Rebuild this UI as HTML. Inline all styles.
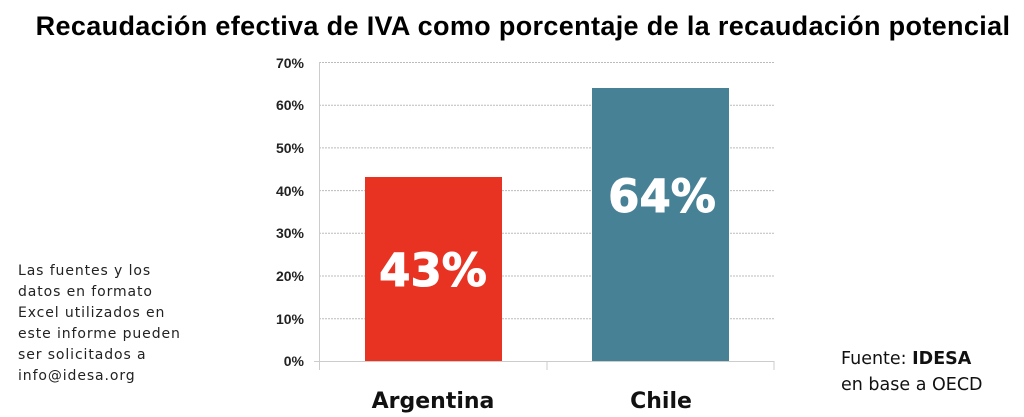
<!DOCTYPE html>
<html><head><meta charset="utf-8"><style>
body{margin:0;width:1024px;height:417px;background:#fff;overflow:hidden;position:relative;font-family:"Liberation Sans","DejaVu Sans",sans-serif}
.t{position:absolute;white-space:nowrap}
</style></head><body>
<div class="t" style="left:0;width:1046px;text-align:center;top:11px;font-size:27px;font-weight:bold;color:#000;letter-spacing:0.35px">Recaudación efectiva de IVA como porcentaje de la recaudación potencial</div>
<svg width="1024" height="417" style="position:absolute;left:0;top:0">
<g stroke="#bbb" stroke-dasharray="2,1" stroke-width="1">
<line x1="319" x2="774" y1="62.5" y2="62.5"/><line x1="319" x2="774" y1="105.2" y2="105.2"/>
<line x1="319" x2="774" y1="147.9" y2="147.9"/><line x1="319" x2="774" y1="190.6" y2="190.6"/>
<line x1="319" x2="774" y1="233.3" y2="233.3"/><line x1="319" x2="774" y1="276" y2="276"/>
<line x1="319" x2="774" y1="318.7" y2="318.7"/>
</g>
<g stroke="#ccc" stroke-width="1">
<line x1="319.5" x2="319.5" y1="62" y2="370"/>
<line x1="314" x2="774" y1="361.5" y2="361.5"/>
<line x1="547" x2="547" y1="361" y2="370"/><line x1="774" x2="774" y1="361" y2="370"/>
</g>
<rect x="365" y="177" width="137" height="184" fill="#e83323"/>
<rect x="592" y="88" width="137" height="273" fill="#478196"/>
<g font-family="Liberation Sans,sans-serif" font-weight="bold" font-size="14" fill="#222" text-anchor="end">
<text x="304" y="68">70%</text><text x="304" y="110">60%</text><text x="304" y="153">50%</text>
<text x="304" y="196">40%</text><text x="304" y="238">30%</text><text x="304" y="281">20%</text>
<text x="304" y="324">10%</text><text x="304" y="366">0%</text>
</g>
<g font-family="DejaVu Sans,sans-serif" font-weight="bold" font-size="45" fill="#fff" text-anchor="middle" stroke="#fff" stroke-width="1">
<text x="433" y="286">43%</text><text x="662" y="212">64%</text>
</g>
<g font-family="DejaVu Sans,sans-serif" font-weight="bold" font-size="22" fill="#111" text-anchor="middle">
<text x="433" y="408">Argentina</text><text x="661" y="408">Chile</text>
</g>
</svg>
<div class="t" style="left:18px;top:261px;font-size:14px;line-height:21px;color:#222;font-family:'DejaVu Sans',sans-serif;letter-spacing:0.9px">Las fuentes y los<br>datos en formato<br>Excel utilizados en<br>este informe pueden<br>ser solicitados a<br>info@idesa.org</div>
<div class="t" style="left:841px;top:346px;font-size:17.5px;line-height:26px;color:#111;font-family:'DejaVu Sans',sans-serif">Fuente: <b>IDESA</b><br>en base a OECD</div>
</body></html>
